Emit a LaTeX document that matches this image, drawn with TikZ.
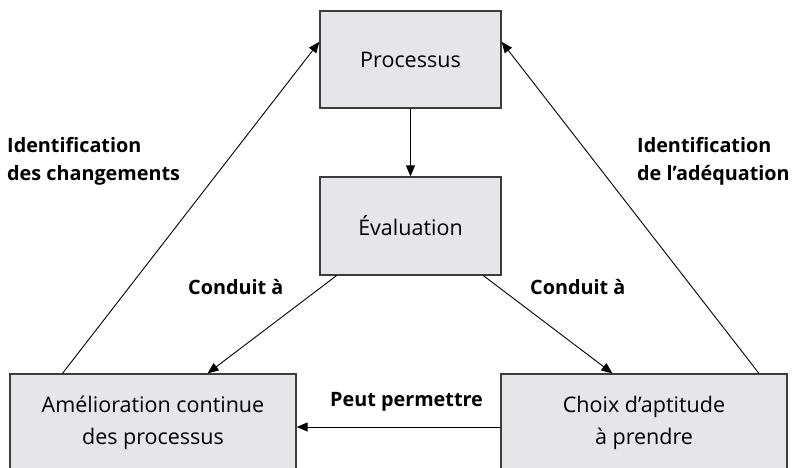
\documentclass[tikz,border=0pt]{standalone}
\usepackage{fontspec}
\setmainfont{Open Sans}
\usetikzlibrary{arrows.meta,calc}
\definecolor{boxfill}{RGB}{230,230,232}
\definecolor{boxline}{RGB}{60,60,60}
\tikzset{
  box/.style={draw=boxline, fill=boxfill, line width=1.3pt, align=center,
    inner sep=0pt, font=\fontsize{21.5}{32}\selectfont},
  link/.style={line width=0.9pt, -{Triangle[length=11pt,width=9pt]}},
  lbl/.style={font=\bfseries\fontsize{19.8}{28}\selectfont, inner sep=0pt, align=left}
}
\begin{document}
\begin{tikzpicture}[x=1pt,y=1pt]
  \useasboundingbox (0,0) rectangle (796,-468);
  \clip (0,0) rectangle (796,-468);

  % boxes
  \node[box, minimum width=181pt, minimum height=97pt] (proc) at (410.5,-59.5) {Processus};
  \node[box, minimum width=181pt, minimum height=98pt] (eval) at (410.5,-226) {Évaluation};
  \node[box, minimum width=286pt, minimum height=98pt] (amel) at (153,-423) {Amélioration continue\\des processus};
  \node[box, minimum width=286pt, minimum height=98pt] (choix) at (644,-423) {Choix d’aptitude\\à prendre};

  % connectors
  \draw[link] (proc.south) -- (eval.north);
  \draw[link] ($(eval.south west)!0.094!(eval.south east)$) -- ($(amel.north west)!0.69!(amel.north east)$);
  \draw[link] ($(eval.south west)!0.90!(eval.south east)$) -- ($(choix.north west)!0.39!(choix.north east)$);
  \draw[link] ($(choix.west)+(0,-4)$) -- ($(amel.east)+(0,-4)$);
  \draw[link] ($(amel.north west)!0.185!(amel.north east)$) -- ($(proc.north west)!0.32!(proc.south west)$);
  \draw[link] ($(choix.north west)!0.90!(choix.north east)$) -- ($(proc.north east)!0.32!(proc.south east)$);

  % labels
  \node[lbl, anchor=west] (lchg) at (7,-161) {Identification\\des changements};
  \node[lbl, anchor=west] (ladq) at (637,-161) {Identification\\de l’adéquation};
  \node[lbl, anchor=west] (lc1) at (188,-287) {Conduit à};
  \node[lbl, anchor=west] (lc2) at (530,-287) {Conduit à};
  \node[lbl, anchor=west] (lpp) at (330,-402) {Peut permettre};
\end{tikzpicture}
\end{document}
